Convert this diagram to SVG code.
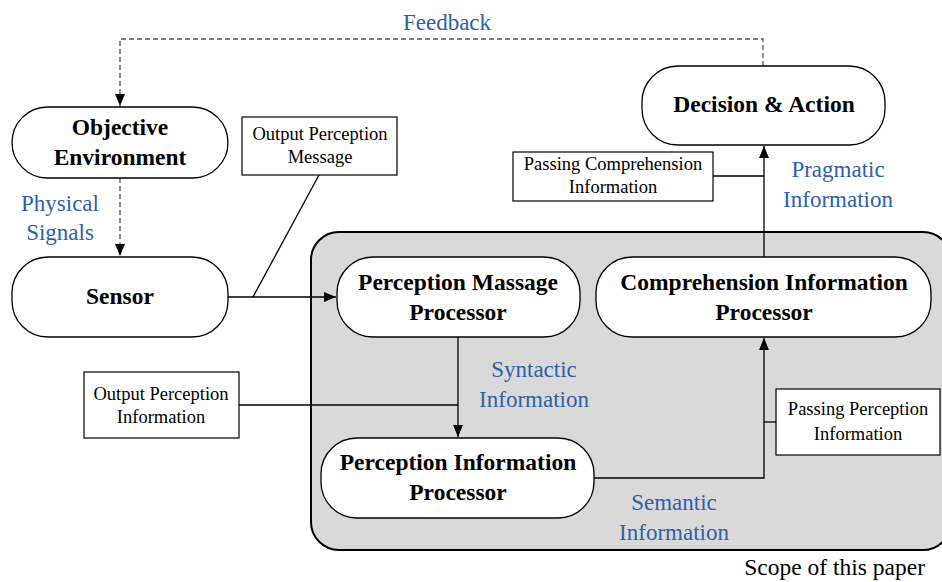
<svg xmlns="http://www.w3.org/2000/svg" width="942" height="582" viewBox="0 0 942 582">
<style>
.node{fill:#fff;stroke:#000;stroke-width:1.3}
.box{fill:#fff;stroke:#000;stroke-width:1.2}
.nt{font-family:"Liberation Serif","Times New Roman",serif;font-weight:bold;font-size:23.5px;fill:#000;text-anchor:middle}
.bt{font-family:"Liberation Serif","Times New Roman",serif;font-size:18.5px;fill:#000;text-anchor:middle}
.lbl{font-family:"Liberation Serif","Times New Roman",serif;font-size:23px;fill:#2e60aa;text-anchor:middle}
.ln{fill:none;stroke:#000;stroke-width:1.3}
.dash{fill:none;stroke:#555;stroke-width:1.3;stroke-dasharray:5 3}
</style>
<defs>
<marker id="ah" viewBox="0 0 12 10" refX="12" refY="5" markerWidth="12" markerHeight="10" markerUnits="userSpaceOnUse" orient="auto">
<path d="M0,0 L12,5 L0,10 Z" fill="#000"/>
</marker>
</defs>
<g id="scope">
<rect x="311" y="232" width="640" height="318" rx="28" ry="28" fill="#d9d9d9" stroke="#000" stroke-width="2"/>
<text x="925" y="575" font-family="Liberation Serif, Times New Roman, serif" font-size="23.5" text-anchor="end" fill="#000">Scope of this paper</text>
</g>
<g id="connectors">
<path class="dash" d="M763,66 V39 H120 V106" marker-end="url(#ah)"/>
<path class="dash" d="M120,178 V256" marker-end="url(#ah)"/>
<path class="ln" d="M228,297 H336" marker-end="url(#ah)"/>
<path class="ln" d="M319,175 L253,297"/>
<path class="ln" d="M458,337 V437" marker-end="url(#ah)"/>
<path class="ln" d="M239,405 H458"/>
<path class="ln" d="M594,478 H764 V338" marker-end="url(#ah)"/>
<path class="ln" d="M764,422 H776"/>
<path class="ln" d="M764,257 V146" marker-end="url(#ah)"/>
<path class="ln" d="M713,176 H764"/>
</g>
<g id="labels">
<text class="lbl" x="447" y="30">Feedback</text>
<text class="lbl" x="60" y="211">Physical</text>
<text class="lbl" x="60" y="240">Signals</text>
<text class="lbl" x="838" y="177">Pragmatic</text>
<text class="lbl" x="838" y="207">Information</text>
<text class="lbl" x="534" y="377">Syntactic</text>
<text class="lbl" x="534" y="407">Information</text>
<text class="lbl" x="674" y="510">Semantic</text>
<text class="lbl" x="674" y="540">Information</text>
</g>
<g id="objective">
<rect class="node" x="12" y="107" width="216" height="71" rx="35.5"/>
<text class="nt" x="120" y="135">Objective</text>
<text class="nt" x="120" y="165">Environment</text>
</g>
<g id="sensor">
<rect class="node" x="12" y="257" width="216" height="80" rx="36"/>
<text class="nt" x="120" y="304">Sensor</text>
</g>
<g id="out-msg">
<rect class="box" x="242" y="117" width="155" height="58"/>
<text class="bt" x="320" y="140">Output Perception</text>
<text class="bt" x="320" y="163">Message</text>
</g>
<g id="pmp">
<rect class="node" x="337" y="257" width="243" height="80" rx="36"/>
<text class="nt" x="458" y="290">Perception Massage</text>
<text class="nt" x="458" y="320">Processor</text>
</g>
<g id="cip">
<rect class="node" x="596" y="257" width="335" height="80" rx="36"/>
<text class="nt" x="764" y="290">Comprehension Information</text>
<text class="nt" x="764" y="320">Processor</text>
</g>
<g id="decision">
<rect class="node" x="642" y="66" width="243" height="79" rx="36"/>
<text class="nt" x="764" y="112">Decision &amp; Action</text>
</g>
<g id="pass-comp">
<rect class="box" x="513" y="152" width="200" height="49"/>
<text class="bt" x="613" y="170">Passing Comprehension</text>
<text class="bt" x="613" y="193">Information</text>
</g>
<g id="out-info">
<rect class="box" x="84" y="372" width="155" height="66"/>
<text class="bt" x="161" y="400">Output Perception</text>
<text class="bt" x="161" y="423">Information</text>
</g>
<g id="pip">
<rect class="node" x="321" y="438" width="273" height="80" rx="36"/>
<text class="nt" x="458" y="470">Perception Information</text>
<text class="nt" x="458" y="500">Processor</text>
</g>
<g id="pass-perc">
<rect class="box" x="776" y="389" width="164" height="66"/>
<text class="bt" x="858" y="415">Passing Perception</text>
<text class="bt" x="858" y="440">Information</text>
</g>
</svg>
